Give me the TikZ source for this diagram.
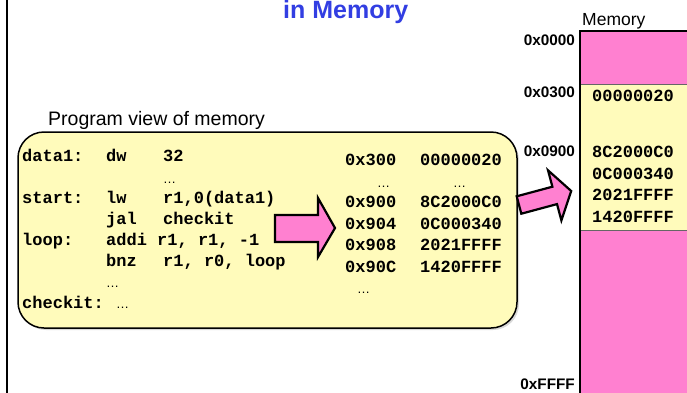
\documentclass[tikz,border=0pt]{standalone}
\usepackage{fontspec}
\setmainfont{Liberation Sans}
\setmonofont{Liberation Mono}
\definecolor{mpink}{RGB}{255,128,208}
\definecolor{myellow}{RGB}{255,251,187}
\definecolor{tblue}{RGB}{50,62,226}
\begin{document}
\begin{tikzpicture}[x=1pt,y=-1pt,
  code/.style={font=\ttfamily\bfseries\fontsize{17}{17}\selectfont, anchor=base west, inner sep=0pt},
  dots/.style={font=\fontsize{13}{13}\selectfont, anchor=base west, inner sep=0pt},
  addr/.style={font=\bfseries\fontsize{15.3}{15.3}\selectfont, anchor=base east, inner sep=0pt},
  label/.style={anchor=base west, inner sep=0pt},
  blockarrow/.style={fill=mpink, draw=black, line width=2.2pt, line join=miter}]
\useasboundingbox (0,0) rectangle (687,392);
\clip (0,0) rectangle (687,392);

% outer frame line
\draw[line width=1.6pt] (7,-2) -- (7,395);

% title
\node[label, font=\bfseries\fontsize{25}{25}\selectfont, text=tblue] (title) at (283,18.5) {in Memory};

% memory column
\fill[mpink] (580,31) rectangle (700,400);
\fill[myellow] (580,84) rectangle (700,230);
\draw[line width=0.4pt, black!60] (580,84) -- (700,84) (580,230) -- (700,230);
\draw[line width=2pt] (700,31) -- (580,31) -- (580,400);
\node[label, font=\fontsize{17.5}{17.5}\selectfont] (memlbl) at (582,25) {Memory};
\node[addr] (a0) at (575,45) {0x0000};
\node[addr] (a3) at (575,97) {0x0300};
\node[addr] (a9) at (575,156) {0x0900};
\node[addr] (af) at (575,389) {0xFFFF};
\node[code] (m1) at (592,101) {00000020};
\node[code] (m2) at (592,157) {8C2000C0};
\node[code] (m3) at (592,179) {0C000340};
\node[code] (m4) at (592,200) {2021FFFF};
\node[code] (m5) at (592,222) {1420FFFF};

% program view box
\node[label, font=\fontsize{19.5}{19.5}\selectfont] (pvlbl) at (48,125) {Program view of memory};
\fill[black, opacity=0.15, rounded corners=26pt] (20,134) rectangle (519,330);
\draw[fill=myellow, line width=1.5pt, rounded corners=26pt] (18,132) rectangle (517,328);

% code
\node[code] (c1a) at (22,161) {data1:};
\node[code] (c1b) at (106,161) {dw};
\node[code] (c1c) at (163,161) {32};
\node[dots] (c2) at (163,183) {…};
\node[code] (c3a) at (22,203) {start:};
\node[code] (c3b) at (106,203) {lw};
\node[code] (c3c) at (163,203) {r1,0(data1)};
\node[code] (c4b) at (106,224) {jal};
\node[code] (c4c) at (163,224) {checkit};
\node[code] (c5a) at (22,245) {loop:};
\node[code] (c5b) at (106,245) {addi r1, r1, -1};
\node[code] (c6b) at (106,266) {bnz};
\node[code] (c6c) at (163,266) {r1, r0, loop};
\node[dots] (c7) at (106,287) {…};
\node[code] (c8a) at (22,308) {checkit:};
\node[dots] (c8b) at (116,308) {…};

% address/value list
\node[code] (v1a) at (345,165) {0x300};
\node[code] (v1b) at (420,165) {00000020};
\node[dots] (v2a) at (377,187) {…};
\node[dots] (v2b) at (453,187) {…};
\node[code] (v3a) at (345,207) {0x900};
\node[code] (v3b) at (420,207) {8C2000C0};
\node[code] (v4a) at (345,229) {0x904};
\node[code] (v4b) at (420,229) {0C000340};
\node[code] (v5a) at (345,250) {0x908};
\node[code] (v5b) at (420,250) {2021FFFF};
\node[code] (v6a) at (345,272) {0x90C};
\node[code] (v6b) at (420,272) {1420FFFF};
\node[dots] (v7) at (357,293) {…};

% block arrows
\draw[blockarrow] (275,215) -- (318,215) -- (318,198) -- (335,228) -- (318,257) -- (318,242) -- (275,242) -- cycle;
\draw[blockarrow] (516.7,196.3) -- (552.4,186.7) -- (548.0,170.3) -- (571.2,191.0) -- (561.4,220.5) -- (557.0,204.1) -- (521.3,213.7) -- cycle;
\end{tikzpicture}
\end{document}
